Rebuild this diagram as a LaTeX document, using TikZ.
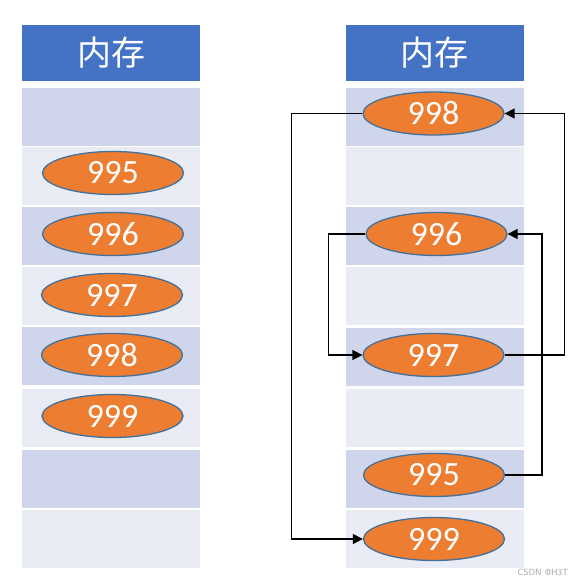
\documentclass[tikz,border=0pt]{standalone}
\usepackage{fontspec}
\setmainfont{Carlito}
\newfontfamily\cjk{Noto Sans CJK SC}
\usetikzlibrary{shapes.geometric,arrows.meta}
\definecolor{hdr}{HTML}{4472C4}
\definecolor{rowdark}{HTML}{CFD5EA}
\definecolor{rowlight}{HTML}{E9EBF5}
\definecolor{ellfill}{HTML}{ED7D31}
\definecolor{elledge}{HTML}{41719C}
\tikzset{
  hdrbox/.style={fill=hdr, draw=none, minimum width=178pt, minimum height=56pt, inner sep=0pt, text=white, font=\cjk\fontsize{34}{34}\selectfont},
  cellD/.style={fill=rowdark, draw=none, minimum width=178pt, minimum height=58pt, inner sep=0pt},
  cellL/.style={fill=rowlight, draw=none, minimum width=178pt, minimum height=58pt, inner sep=0pt},
  blob/.style={ellipse, fill=ellfill, draw=elledge, line width=1.3pt, minimum width=141pt, minimum height=43pt, inner sep=0pt, text=white, font=\fontsize{34}{34}\selectfont},
  conn/.style={draw=black, line width=1.4pt},
  connarr/.style={conn, -{Triangle[length=10pt,width=10pt]}}
}
\begin{document}
\begin{tikzpicture}[x=1pt,y=-1pt]
\useasboundingbox (0,0) rectangle (584,585);
% left column
\node[hdrbox] (lh) at (111,53) {内存};
\node[cellD] (l1) at (111,117) {};
\node[cellL] (l2) at (111,176) {};
\node[cellD] (l3) at (111,236) {};
\node[cellL] (l4) at (111,296) {};
\node[cellD] (l5) at (111,356) {};
\node[cellL] (l6) at (111,418) {};
\node[cellD] (l7) at (111,478.5) {};
\node[cellL] (l8) at (111,539) {};
\node[blob] (l995) at (113,173) {995};
\node[blob] (l996) at (113,234) {996};
\node[blob] (l997) at (112,295) {997};
\node[blob] (l998) at (112,355) {998};
\node[blob] (l999) at (112.5,416) {999};
% right column
\node[hdrbox] (rh) at (434.5,53) {内存};
\node[cellD] (r1) at (434.5,117) {};
\node[cellL] (r2) at (434.5,176) {};
\node[cellD] (r3) at (434.5,236) {};
\node[cellL] (r4) at (434.5,296) {};
\node[cellD] (r5) at (434.5,357) {};
\node[cellL] (r6) at (434.5,418) {};
\node[cellD] (r7) at (434.5,478.5) {};
\node[cellL] (r8) at (434.5,539) {};
\node[blob] (r998) at (433.5,113.5) {998};
\node[blob] (r996) at (436.5,234) {996};
\node[blob] (r997) at (433.5,355) {997};
\node[blob] (r995) at (434,475) {995};
\node[blob] (r999) at (434,539) {999};
% connectors
\draw[connarr] (r998.west) -- ++(-71,0) |- (r999.west);
\draw[connarr] (r997.east) -- ++(60,0) |- (r998.east);
\draw[connarr] (r996.west) -- ++(-37,0) |- (r997.west);
\draw[connarr] (r995.east) -- ++(37,0) |- (r996.east);
% watermark
\node[text=black!35, font=\sffamily\fontsize{9}{9}\selectfont, inner sep=0pt] (wm) at (543,572) {CSDN @H3T};
\end{tikzpicture}
\end{document}
